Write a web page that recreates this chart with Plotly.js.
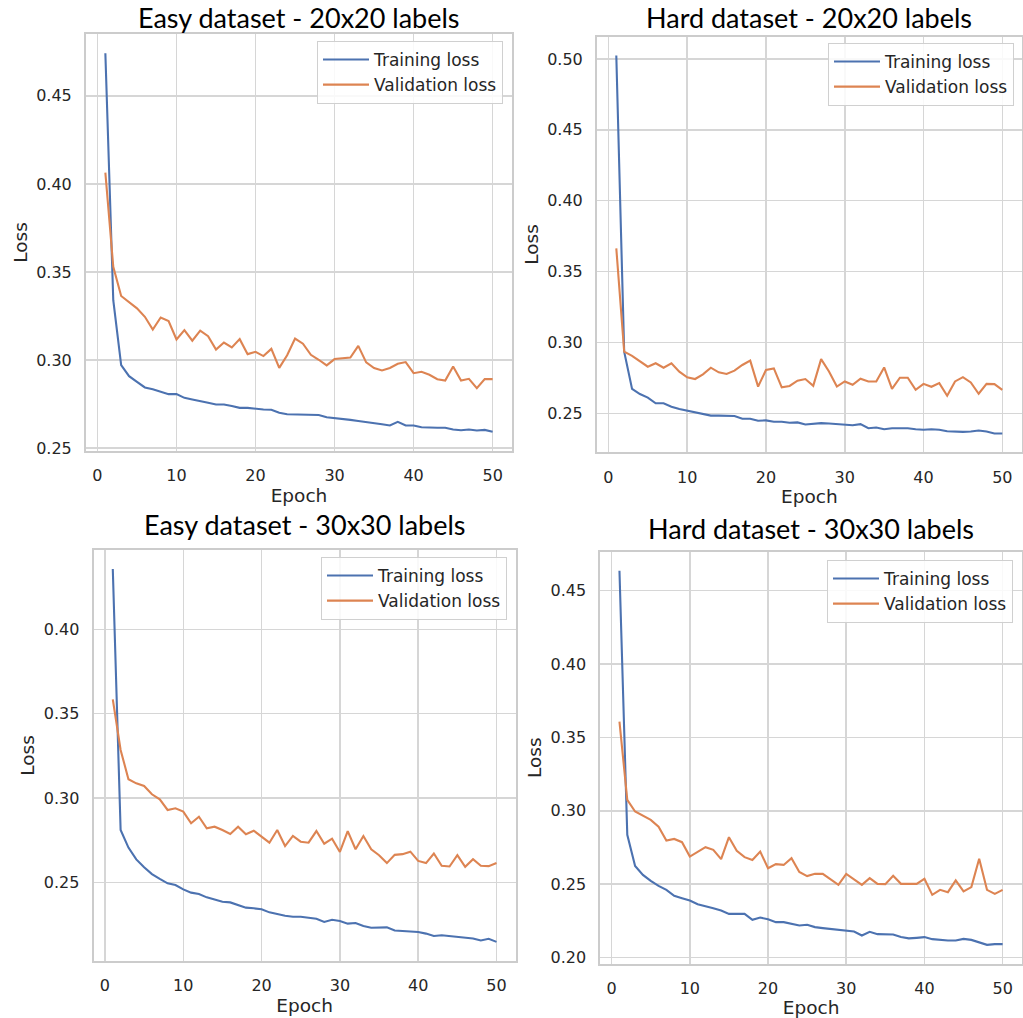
<!DOCTYPE html>
<html>
<head>
<meta charset="utf-8">
<script src="https://cdn.plot.ly/plotly-3.0.1.min.js"></script>
<style>html,body{margin:0;padding:0;background:#fff;}#chart{width:1023px;height:1018px;}</style>
</head>
<body>
<div id="chart"></div>
<script>
const epochs = [1,2,3,4,5,6,7,8,9,10,11,12,13,14,15,16,17,18,19,20,21,22,23,24,25,26,27,28,29,30,31,32,33,34,35,36,37,38,39,40,41,42,43,44,45,46,47,48,49,50];

const panelTitles = ["Easy dataset - 20x20 labels", "Hard dataset - 20x20 labels", "Easy dataset - 30x30 labels", "Hard dataset - 30x30 labels"];
const seriesNames = ["Training loss", "Validation loss"];

const easy20Train = [0.4742,0.334,0.2972,0.2909,0.2877,0.2845,0.2835,0.282,0.2807,0.2807,
0.2786,0.2777,0.2769,0.2758,0.2748,0.2748,0.274,0.2729,0.2729,0.2723,
0.272,0.2718,0.2701,0.2693,0.2691,0.2691,0.2689,0.2689,0.2676,0.2672,
0.2665,0.2661,0.2655,0.265,0.2644,0.2636,0.2629,0.265,0.2629,0.2629,
0.2619,0.2616,0.2616,0.2616,0.2606,0.2602,0.2606,0.2601,0.2604,0.2593];
const easy20Val = [0.4064,0.353,0.3364,0.3331,0.3294,0.3246,0.3174,0.3242,0.3222,0.3117,
0.317,0.311,0.3167,0.3136,0.306,0.31,0.3072,0.3119,0.3034,0.3047,
0.3023,0.3064,0.2956,0.3028,0.3122,0.3093,0.303,0.3002,0.297,0.3006,
0.301,0.3015,0.3081,0.2987,0.2955,0.2941,0.2955,0.2979,0.2989,0.2926,
0.2934,0.2917,0.2892,0.2884,0.2964,0.2884,0.2894,0.2841,0.2892,0.2892];

const hard20Train = [0.5024,0.2935,0.2672,0.2636,0.2611,0.2571,0.2571,0.2547,0.253,0.2519,
0.2505,0.2495,0.2484,0.2484,0.2481,0.2481,0.2462,0.2462,0.2448,0.245,
0.2441,0.2441,0.2434,0.2436,0.2421,0.2428,0.2431,0.2428,0.2424,0.2421,
0.2416,0.2424,0.2395,0.24,0.2388,0.2395,0.2395,0.2395,0.2388,0.2384,
0.2388,0.2384,0.2374,0.2369,0.2369,0.2372,0.2379,0.2372,0.2358,0.2358];
const hard20Val = [0.3664,0.2935,0.2905,0.2865,0.2829,0.2853,0.2822,0.2853,0.2794,0.2754,
0.2742,0.2775,0.2822,0.2789,0.2778,0.2801,0.2841,0.2872,0.2688,0.2806,
0.2817,0.2683,0.2693,0.273,0.2742,0.2694,0.2882,0.2795,0.2689,0.2725,
0.2701,0.2744,0.2725,0.2725,0.2824,0.2673,0.2751,0.2751,0.2666,0.2708,
0.2687,0.2713,0.2624,0.2725,0.2755,0.2718,0.2638,0.2708,0.2706,0.2666];

const easy30Train = [0.4358,0.281,0.2706,0.2636,0.2589,0.2549,0.252,0.2494,0.2484,0.2458,
0.2439,0.2431,0.2411,0.2399,0.2385,0.2381,0.2366,0.235,0.2346,0.234,
0.2322,0.231,0.2302,0.2296,0.2296,0.229,0.2284,0.2265,0.2278,0.2271,
0.2255,0.2259,0.2241,0.2231,0.2231,0.2233,0.2214,0.2212,0.221,0.2206,
0.2196,0.2182,0.2186,0.2182,0.2176,0.2171,0.2167,0.2155,0.2165,0.2147];
const easy30Val = [0.3585,0.3285,0.3111,0.3087,0.3071,0.3022,0.2992,0.2929,0.2939,0.2919,
0.285,0.2889,0.282,0.283,0.281,0.2787,0.283,0.2785,0.2806,0.2771,
0.2735,0.281,0.2715,0.2775,0.2741,0.2735,0.2804,0.2729,0.2759,0.268,
0.2804,0.2696,0.2775,0.2696,0.2661,0.2614,0.2663,0.2667,0.2682,0.2627,
0.2614,0.2671,0.2598,0.2594,0.2661,0.2592,0.2637,0.2598,0.2596,0.2614];

const hard30Train = [0.4636,0.2836,0.2624,0.2563,0.2522,0.2488,0.2461,0.242,0.2404,0.2388,
0.2363,0.2352,0.2336,0.232,0.2297,0.2297,0.2297,0.2257,0.2272,0.2261,
0.2241,0.2241,0.2229,0.2218,0.2223,0.2207,0.22,0.2193,0.2186,0.2182,
0.2177,0.215,0.2175,0.2159,0.2159,0.2157,0.2139,0.213,0.2134,0.2139,
0.2125,0.212,0.2116,0.2116,0.2127,0.212,0.2105,0.2086,0.2091,0.2091];
const hard30Val = [0.3608,0.3074,0.2995,0.2967,0.2938,0.2892,0.2797,0.2808,0.2786,0.2688,
0.2722,0.2752,0.2734,0.267,0.282,0.2727,0.2684,0.2665,0.2722,0.2608,
0.2636,0.2631,0.2677,0.2583,0.2555,0.257,0.257,0.2534,0.2495,0.257,
0.2534,0.2495,0.2541,0.2502,0.25,0.2557,0.2502,0.2502,0.2502,0.2536,
0.2427,0.2461,0.2445,0.2525,0.245,0.248,0.2673,0.2461,0.2434,0.2461];

const xTickVals = [0,10,20,30,40,50];
const yTickVals = [0.20,0.25,0.30,0.35,0.40,0.45,0.50];
const xLabel = "Epoch";
const yLabel = "Loss";

const panelData = [[easy20Train, easy20Val],[hard20Train, hard20Val],[easy30Train, easy30Val],[hard30Train, hard30Val]];

const BLUE = "#4c72b0", ORANGE = "#dd8452", TXT = "#262626", GRID = "#d6d6d6";
const FONT = "'DejaVu Sans', Verdana, sans-serif";
const tickFont = {family: FONT, size: 16, color: TXT};

// layout geometry (pixels -> paper)
const W = 1023, H = 1018;
const boxes = [
  {l: 86, r: 512, t: 34.3, b: 450.7, yr: [0.2486, 0.4849]},
  {l: 597, r: 1021.6, t: 36.7, b: 452.3, yr: [0.2225, 0.5157]},
  {l: 93.6, r: 515.7, t: 550.2, b: 960.6, yr: [0.2036, 0.4469]},
  {l: 600.3, r: 1021.8, t: 552, b: 963.5, yr: [0.1959, 0.4764]}
];
const titleY = [17, 17, 524, 528];
const legendPos = [[503, 41], [1014, 43], [507, 557], [1013, 560]];

const traces = [];
const layout = {
  width: W, height: H,
  margin: {l: 0, r: 0, t: 0, b: 0},
  paper_bgcolor: "#ffffff", plot_bgcolor: "#ffffff",
  showlegend: true,
  annotations: []
};

panelData.forEach((pair, i) => {
  const n = i + 1;
  const xa = n === 1 ? "x" : "x" + n;
  const ya = n === 1 ? "y" : "y" + n;
  const lg = n === 1 ? "legend" : "legend" + n;
  pair.forEach((vals, j) => {
    traces.push({
      x: epochs, y: vals, type: "scatter", mode: "lines",
      name: seriesNames[j], xaxis: xa, yaxis: ya, legend: lg,
      line: {color: j === 0 ? BLUE : ORANGE, width: 2.1}
    });
  });
  const b = boxes[i];
  const axCommon = {
    showgrid: true, gridcolor: GRID, gridwidth: 1.5,
    showline: true, mirror: true, linecolor: "#cccccc", linewidth: 2,
    zeroline: false, ticks: "", tickfont: tickFont,
    ticklabelstandoff: 9
  };
  layout["xaxis" + (n === 1 ? "" : n)] = Object.assign({}, axCommon, {
    domain: [b.l / W, b.r / W], anchor: ya,
    range: [-1.45, 52.45], tickvals: xTickVals,
    title: {text: xLabel, font: {family: FONT, size: 18.5, color: TXT}, standoff: 4}
  });
  layout["yaxis" + (n === 1 ? "" : n)] = Object.assign({}, axCommon, {
    domain: [1 - b.b / H, 1 - b.t / H], anchor: xa,
    range: b.yr, tickvals: yTickVals, tickformat: ".2f",
    title: {text: yLabel, font: {family: FONT, size: 18.5, color: TXT}, standoff: 4}
  });
  layout[lg] = {
    x: legendPos[i][0] / W, y: 1 - legendPos[i][1] / H,
    xanchor: "right", yanchor: "top",
    bgcolor: "rgba(255,255,255,0.85)", bordercolor: "#d0d0d0", borderwidth: 1,
    font: {family: FONT, size: 17, color: TXT},
    itemwidth: 46, tracegroupgap: 0
  };
  layout.annotations.push({
    text: panelTitles[i], xref: "paper", yref: "paper",
    x: ((b.l + b.r) / 2) / W, y: 1 - titleY[i] / H,
    xanchor: "center", yanchor: "middle", showarrow: false,
    font: {family: "Lato, 'Noto Sans', sans-serif", size: 27, color: "#000000"}
  });
});

Plotly.newPlot("chart", traces, layout, {displayModeBar: false, staticPlot: true});
</script>
</body>
</html>
